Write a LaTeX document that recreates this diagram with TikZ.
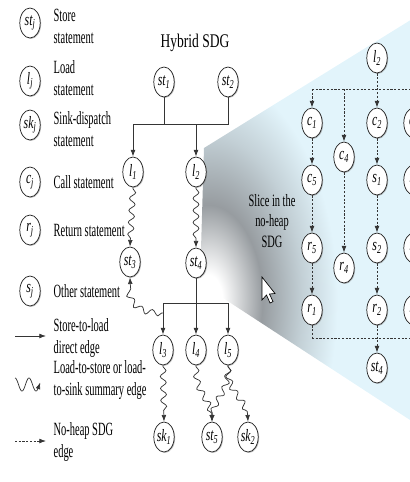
\documentclass[tikz,border=0pt]{standalone}
\usepackage{fontspec}
\setmainfont{Liberation Serif}
\usetikzlibrary{arrows.meta,decorations.pathmorphing,shadows}
\definecolor{SliceBlue}{HTML}{E2F4FB}
\definecolor{SliceGray}{HTML}{979CA0}
\definecolor{SliceMid}{HTML}{C3D0D6}
\definecolor{EdgeGray}{HTML}{353535}
\pgfdeclareradialshading{slicefade}{\pgfpoint{0bp}{0bp}}{color(0bp)=(white); color(0.9bp)=(white); color(3.4bp)=(SliceGray); color(5.9bp)=(SliceMid); color(8.1bp)=(SliceBlue); color(50bp)=(SliceBlue)}

\tikzset{
  stmt/.style={circle, draw=black!85, line width=.55pt, fill=white, minimum size=22.5pt, inner sep=0pt,
    xscale=.68, font=\fontsize{13}{13}\selectfont\itshape,
    drop shadow={shadow xshift=.7pt, shadow yshift=-.7pt, opacity=.55}},
  keytext/.style={anchor=west, align=left, xscale=.56, font=\fontsize{14}{16.5}\selectfont},
  direct/.style={EdgeGray, line width=.6pt},
  directarr/.style={direct, -{Latex[length=5pt,width=3.6pt]}},
  summary/.style={EdgeGray, line width=.55pt, -{Latex[length=5pt,width=3.6pt]}, decorate,
    decoration={snake, segment length=9pt, amplitude=2.2pt, pre length=1pt, post length=5pt}},
  noheap/.style={EdgeGray, line width=.6pt, dash pattern=on 1.6pt off 1.2pt},
  noheaparr/.style={noheap, -{Latex[length=5pt,width=3.6pt]}},
}

\begin{document}
\begin{tikzpicture}[x=.75pt,y=-.75pt]
\path[use as bounding box] (0,0) rectangle (410,482);

% zoom wedge behind the slice
\begin{scope}
\clip (204,148) -- (430,8) -- (430,433) -- (200,283) -- cycle;
\shade[shading=slicefade] (-192,-400) rectangle (608,1000);
\end{scope}

% legend
\node[stmt] (kst) at (30,23) {st\textsubscript{j}};
\node[keytext] (kstt) at (51,26) {Store\\statement};
\node[stmt] (kl) at (30,81) {l\textsubscript{j}};
\node[keytext] (klt) at (51,78) {Load\\statement};
\node[stmt] (ksk) at (30,125) {sk\textsubscript{j}};
\node[keytext] (kskt) at (51,129) {Sink-dispatch\\statement};
\node[stmt] (kc) at (30,182) {c\textsubscript{j}};
\node[keytext] (kct) at (51,182) {Call statement};
\node[stmt] (kr) at (30,230) {r\textsubscript{j}};
\node[keytext] (krt) at (51,230) {Return statement};
\node[stmt] (ks) at (30,291) {s\textsubscript{j}};
\node[keytext] (kst2) at (51,291) {Other statement};

\coordinate (kd1) at (15,336);
\coordinate (kd2) at (46,336);
\draw[directarr] (kd1) -- (kd2);
\node[keytext] (kdt) at (51,338) {Store-to-load\\direct edge};
\draw[EdgeGray, line width=.55pt, -{Latex[length=5pt,width=3.6pt]}]
  plot[domain=0:1.8, samples=50, smooth] ({15+14*\x},{384.5-6.5*cos(360*\x)});
\node[keytext] (kwt) at (51,380) {Load-to-store or load-\\to-sink summary edge};
\coordinate (kn1) at (15,441);
\coordinate (kn2) at (46,441);
\draw[noheaparr] (kn1) -- (kn2);
\node[keytext] (knt) at (51,442) {No-heap SDG\\edge};

% hybrid SDG
\node[xscale=.7, font=\fontsize{14.5}{14.5}\selectfont] (title) at (195,43) {Hybrid SDG};
\node[stmt] (st1) at (164,82) {st\textsubscript{1}};
\node[stmt] (st2) at (228,82) {st\textsubscript{2}};
\node[stmt] (l1) at (133,172) {l\textsubscript{1}};
\node[stmt] (l2) at (196,172) {l\textsubscript{2}};
\node[stmt] (st3) at (130,262) {st\textsubscript{3}};
\node[stmt] (st4) at (196,263) {st\textsubscript{4}};
\node[stmt] (l3) at (163,350) {l\textsubscript{3}};
\node[stmt] (l4) at (196,350) {l\textsubscript{4}};
\node[stmt] (l5) at (228,350) {l\textsubscript{5}};
\node[stmt] (sk1) at (164,437) {sk\textsubscript{1}};
\node[stmt] (st5) at (212,437) {st\textsubscript{5}};
\node[stmt] (sk2) at (248,437) {sk\textsubscript{2}};

\coordinate (hbar) at (0,124);
\coordinate (lbar) at (0,303);
\coordinate (j3) at (163,313);
\draw[direct] (st2.south) |- (l1 |- hbar);
\draw[direct] (st1.south) -- (st1 |- hbar);
\draw[directarr] (l1 |- hbar) -- (l1.north);
\draw[directarr] (l2 |- hbar) -- (l2.north);
\draw[direct] (l3 |- lbar) -- (l5 |- lbar);
\draw[direct] (st4.south) -- (st4 |- lbar);
\draw[directarr] (l3 |- lbar) -- (l3.north);
\draw[directarr] (l4 |- lbar) -- (l4.north);
\draw[directarr] (l5 |- lbar) -- (l5.north);

\draw[summary] (l1.south) -- (st3.north);
\draw[summary] (l2.south) -- (st4.north);
\draw[summary] (j3) .. controls +(-24,0) and +(0,24) .. (st3.south);
\draw[summary] (l3.south) -- (sk1.north);
\draw[summary] (l4.south) .. controls +(0,30) and +(0,-30) .. (st5.north);
\draw[summary] (l5.south) .. controls +(0,30) and +(0,-30) .. (st5.north);
\draw[summary] (l5.south) .. controls +(0,30) and +(0,-30) .. (sk2.north);

% slice in the no-heap SDG
\node[align=center, xscale=.6, font=\fontsize{13}{15.5}\selectfont] (slicetxt) at (272,221) {Slice in the\\no-heap\\SDG};
\draw[black, fill=white, line width=.5pt, line join=miter] (262,277) -- (262,300) -- (266.5,295) -- (270,303)
  -- (273,301.5) -- (269.5,294) -- (275,293.5) -- cycle;

\begin{scope}
\clip (0,0) rectangle (410,482);
\node[stmt] (sl2) at (377,58) {l\textsubscript{2}};
\node[stmt] (sc1) at (312,123) {c\textsubscript{1}};
\node[stmt] (sc2) at (377,123) {c\textsubscript{2}};
\node[stmt] (sc3) at (414,123) {c\textsubscript{3}};
\node[stmt] (sc4) at (344,157) {c\textsubscript{4}};
\node[stmt] (sc5) at (312,180) {c\textsubscript{5}};
\node[stmt] (ss1) at (377,180) {s\textsubscript{1}};
\node[stmt] (sr6) at (414,180) {r\textsubscript{6}};
\node[stmt] (sr5) at (312,248) {r\textsubscript{5}};
\node[stmt] (ss2) at (377,248) {s\textsubscript{2}};
\node[stmt] (sr7) at (414,248) {r\textsubscript{7}};
\node[stmt] (sr4) at (344,268) {r\textsubscript{4}};
\node[stmt] (sr1) at (312,310) {r\textsubscript{1}};
\node[stmt] (sr2) at (377,310) {r\textsubscript{2}};
\node[stmt] (sr8) at (414,310) {r\textsubscript{8}};
\node[stmt] (sst4) at (377,368) {st\textsubscript{4}};

\coordinate (sbar) at (0,89);
\coordinate (sbarR) at (430,89);
\coordinate (bbar) at (0,338);
\coordinate (bbarR) at (430,338);
\draw[noheap] (sc1 |- sbar) -- (sbarR);
\draw[noheap] (sr1 |- bbar) -- (bbarR);
\draw[noheaparr] (sl2.south) -- (sc2.north);
\draw[noheaparr] (sc1 |- sbar) -- (sc1.north);
\draw[noheaparr] (sc4 |- sbar) -- (sc4.north);
\draw[noheaparr] (sc3 |- sbar) -- (sc3.north);
\draw[noheaparr] (sc1) -- (sc5);
\draw[noheaparr] (sc5) -- (sr5);
\draw[noheaparr] (sr5) -- (sr1);
\draw[noheaparr] (sc4) -- (sr4);
\draw[noheaparr] (sc2) -- (ss1);
\draw[noheaparr] (ss1) -- (ss2);
\draw[noheaparr] (ss2) -- (sr2);
\draw[noheaparr] (sc3) -- (sr6);
\draw[noheaparr] (sr6) -- (sr7);
\draw[noheaparr] (sr7) -- (sr8);
\draw[noheap] (sr1.south) -- (sr1 |- bbar);
\draw[noheap] (sr8.south) -- (sr8 |- bbar);
\draw[noheaparr] (sr2.south) -- (sst4.north);
\end{scope}
\end{tikzpicture}
\end{document}
